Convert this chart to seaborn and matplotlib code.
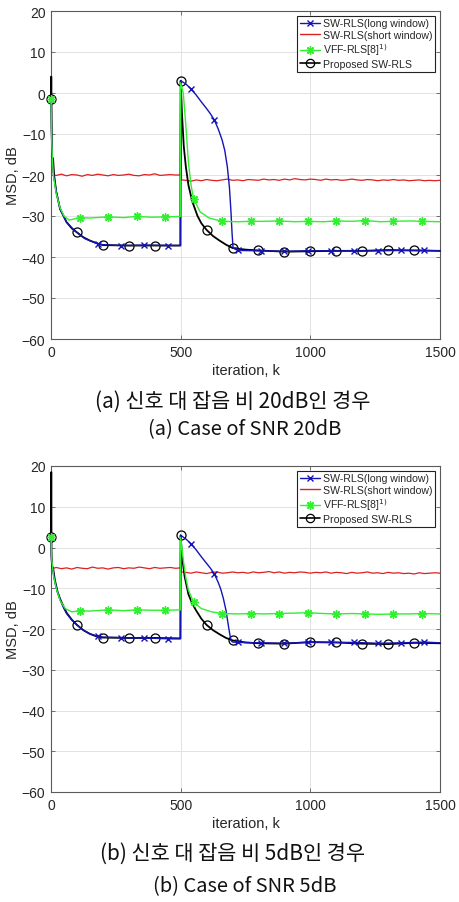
import numpy as np
import pandas as pd
import matplotlib
matplotlib.use("Agg")
import matplotlib.pyplot as plt
from matplotlib.lines import Line2D
import seaborn as sns

# ---- datos (MSD en dB frente a iteración k) ----
# Panel (a): SNR 20 dB
A_LONG_K = [0, 2, 5, 10, 20, 35, 60, 90, 100, 130, 180, 200, 270, 300, 360, 450, 499,
            500, 520, 540, 560, 580, 600, 615, 630, 645, 660, 670, 680, 688, 694, 698, 702,
            720, 810, 900, 990, 1080, 1170, 1260, 1350, 1440, 1500]
A_LONG = [-1.5, -10, -16, -20, -24, -28.3, -31.5, -33.5, -34, -35.5, -36.8, -37.0,
          -37.2, -37.2, -37.1, -37.2, -37.2,
          3.0, 2.2, 1.0, -0.5, -2.2, -3.8, -5.1, -6.6, -8.8, -11.5, -14.0, -18.0, -23.0,
          -29.0, -34.0, -37.8, -38.4, -38.5, -38.6,
          -38.5, -38.5, -38.5, -38.5, -38.4, -38.4, -38.5]
A_LONG_MARK = [180, 270, 360, 450, 540, 630, 720, 810, 900, 990, 1080, 1170, 1260, 1350, 1440]

A_SHORT_K = [0, 3, 6, 10] + list(range(20, 500, 20)) + [499, 500, 503] + list(range(520, 1501, 20))
A_SHORT = ([-1.5, -12, -18, -20.0] +
           [-20.1, -19.8, -20.2, -19.9, -20.0, -20.3, -19.9, -20.1, -19.8, -20.0, -20.2, -19.9,
            -20.1, -20.0, -19.8, -20.1, -20.2, -19.9, -20.0, -19.7, -20.1, -20.0, -19.9, -20.0] +
           [-20.0, 2.5, -21.2] +
           [-21.3, -21.5, -21.2, -21.4, -21.1, -21.3, -21.4, -21.2, -21.0, -21.3, -21.2, -21.4,
            -21.1, -21.2, -21.3, -21.0, -21.2, -21.1, -21.3, -21.0, -21.2, -20.9, -21.1, -21.2,
            -21.0, -21.1, -21.3, -21.0, -21.2, -21.1, -21.3, -21.2, -21.0, -21.2, -21.3, -21.1,
            -21.2, -21.4, -21.2, -21.3, -21.1, -21.3, -21.2, -21.4, -21.3, -21.2, -21.4, -21.3,
            -21.4, -21.3])

A_VFF_K = [0, 3, 6, 10, 20, 35, 50, 70, 110, 150, 220, 280, 330, 390, 440, 499,
           500, 510, 520, 530, 540, 550, 575, 610, 660, 720, 770, 820, 880, 940, 990,
           1050, 1100, 1160, 1210, 1270, 1320, 1380, 1430, 1500]
A_VFF = [-1.5, -12, -17, -20.5, -24.5, -28, -30.0, -31.0, -30.4, -30.5, -30.2, -30.4, -30.1,
         -30.3, -30.2, -30.1,
         2.5, 0.0, -8, -17, -22.5, -25.8, -29.0, -30.5, -31.3, -31.4, -31.3, -31.3, -31.2,
         -31.4, -31.3, -31.4, -31.2, -31.3, -31.1, -31.4, -31.3, -31.2, -31.3, -31.4]
A_VFF_MARK = [0, 110, 220, 330, 440, 550, 660, 770, 880, 990, 1100, 1210, 1320, 1430]

A_PROP_K = [0, 1, 3, 4, 8, 12, 20, 35, 60, 80, 100, 125, 150, 175, 200, 300, 400, 499,
            500, 505, 512, 520, 530, 545, 565, 580, 600, 625, 650, 675, 700, 750, 800, 900,
            1000, 1100, 1200, 1300, 1400, 1500]
A_PROP = [-1.5, 4.0, -10, -15.6, -16, -20, -24, -28.3, -31.5, -33.0, -34.0, -35.2, -36.0,
          -36.6, -37.1, -37.2, -37.2, -37.2,
          3.0, -5, -13, -18, -22.5, -26.5, -30.0, -31.8, -33.4, -34.9, -36.0, -37.0, -37.8,
          -38.2, -38.4, -38.7, -38.6, -38.5, -38.5, -38.3, -38.4, -38.5]
A_PROP_MARK = [0, 100, 200, 300, 400, 500, 600, 700, 800, 900, 1000, 1100, 1200, 1300, 1400]

# Panel (b): SNR 5 dB
B_LONG_K = [0, 2, 5, 15, 25, 35, 50, 60, 80, 100, 125, 150, 180, 200, 270, 300, 360, 450, 499,
            500, 520, 540, 560, 580, 600, 615, 630, 645, 655, 665, 675, 684, 690, 695, 700,
            720, 810, 900, 990, 1080, 1170, 1260, 1350, 1440, 1500]
B_LONG = [2.5, -3, -5, -8.5, -11.0, -12.8, -15.0, -16.2, -17.8, -19.0, -20.3, -21.2, -21.8,
          -22.0, -22.1, -22.2, -22.2, -22.4, -22.4,
          3.0, 2.1, 0.9, -0.6, -2.3, -3.9, -5.1, -6.5, -8.6, -10.3, -12.6, -15.5, -19.2,
          -21.5, -22.9, -23.2,
          -23.3, -23.4, -23.5, -23.3, -23.3, -23.3, -23.5, -23.4, -23.2, -23.4]
B_LONG_MARK = A_LONG_MARK

B_SHORT_K = [0, 2, 5, 10] + list(range(20, 500, 20)) + [499, 500, 503] + list(range(520, 1501, 20))
B_SHORT = ([2.5, -2, -5, -5.1] +
           [-4.9, -5.2, -5.0, -5.3, -4.9, -5.1, -5.2, -4.8, -5.1, -5.0, -5.3, -5.0,
            -4.9, -5.2, -5.0, -5.1, -4.8, -5.0, -5.2, -4.9, -5.1, -5.0, -4.9, -5.1] +
           [-5.0, 2.5, -6.0] +
           [-6.1, -6.3, -6.0, -6.2, -6.4, -6.1, -6.0, -6.3, -6.2, -6.0, -6.2, -6.1,
            -6.3, -6.0, -6.2, -6.1, -5.9, -6.2, -6.0, -6.3, -6.1, -6.2, -6.0, -6.1,
            -6.3, -6.1, -6.2, -6.0, -6.3, -6.1, -6.2, -6.4, -6.1, -6.3, -6.2, -6.0,
            -6.3, -6.2, -6.4, -6.1, -6.3, -6.2, -6.4, -6.3, -6.5, -6.2, -6.4, -6.3,
            -6.2, -6.3])

B_VFF_K = [0, 3, 10, 20, 35, 55, 80, 110, 150, 220, 280, 330, 390, 440, 499,
           500, 510, 520, 530, 550, 580, 620, 660, 720, 770, 820, 880, 940, 990,
           1050, 1100, 1160, 1210, 1270, 1320, 1380, 1430, 1500]
B_VFF = [2.5, -3, -7, -10, -13, -15, -15.8, -15.5, -15.6, -15.3, -15.5, -15.3, -15.4,
         -15.4, -15.3,
         2.5, -3, -7.5, -10.5, -13.4, -15.0, -15.8, -16.2, -16.3, -16.2, -16.3, -16.2, -16.1,
         -16.0, -16.2, -16.3, -16.2, -16.3, -16.4, -16.3, -16.3, -16.2, -16.3]
B_VFF_MARK = A_VFF_MARK

B_PROP_K = [0, 1, 2, 4, 8, 15, 25, 35, 50, 60, 80, 100, 125, 150, 175, 200, 300, 400, 499,
            500, 505, 515, 530, 545, 560, 580, 600, 625, 650, 675, 700, 750, 800, 900, 1000,
            1100, 1200, 1300, 1400, 1500]
B_PROP = [2.5, 18.5, -2, -4.5, -5, -8, -10.8, -12.6, -14.7, -16.0, -17.7, -19.0, -20.3,
          -21.2, -21.8, -22.1, -22.2, -22.2, -22.3,
          3.0, -2, -7, -11.5, -13.8, -15.5, -17.5, -19.0, -20.3, -21.3, -22.2, -22.8,
          -23.3, -23.5, -23.6, -23.2, -23.3, -23.6, -23.7, -23.4, -23.5]
B_PROP_MARK = A_PROP_MARK

LABELS = ["SW-RLS(long window)", "SW-RLS(short window)", "VFF-RLS[8]$^{1)}$", "Proposed SW-RLS"]
CAPTIONS_KO = ["(a) 신호 대 잡음 비 20dB인 경우", "(b) 신호 대 잡음 비 5dB인 경우"]
CAPTIONS_EN = ["(a) Case of SNR 20dB", "(b) Case of SNR 5dB"]

BLUE = "#1414b4"
RED = "#dd2020"
GREEN = "#30f030"
BLACK = "#000000"
ASTERISK = (8, 2, 0)

sns.set_theme(style="whitegrid")
plt.rcParams["font.family"] = ["Liberation Sans", "DejaVu Sans"]

fig = plt.figure(figsize=(4.6, 9.03), dpi=100)
H = 903.0
ax_a = fig.add_axes([51 / 460, 1 - 340 / H, 389 / 460, 328 / H])
ax_b = fig.add_axes([51 / 460, 1 - 793 / H, 389 / 460, 326 / H])


def draw_series(ax, k, v, marks, color, marker, lw, ms, mfc, mew, z):
    idx = [k.index(m) for m in marks] if marks else None
    kw = dict(x=k, y=v, estimator=None, sort=False, color=color, lw=lw, ax=ax,
              legend=False, zorder=z, clip_on=False)
    if marker:
        kw.update(marker=marker, markevery=idx, markersize=ms, mfc=mfc, mec=color, mew=mew)
    sns.lineplot(**kw)


def draw_panel(ax, d):
    draw_series(ax, d["prop_k"], d["prop"], d["prop_m"], BLACK, "o", 1.3, 6.5, "none", 0.9, 3)
    draw_series(ax, d["long_k"], d["long"], d["long_m"], BLUE, "x", 1.0, 4.5, BLUE, 1.0, 4)
    draw_series(ax, d["short_k"], d["short"], None, RED, None, 0.9, 0, None, 0, 2)
    draw_series(ax, d["vff_k"], d["vff"], d["vff_m"], GREEN, ASTERISK, 1.0, 6, GREEN, 1.0, 5)

    ax.set_xlim(0, 1500)
    ax.set_ylim(-60, 20)
    ax.set_xticks([0, 500, 1000, 1500])
    ax.set_yticks(range(-60, 21, 10))
    ax.grid(True, color="#e2e2e2", lw=0.7)
    ax.set_facecolor("white")
    for s in ax.spines.values():
        s.set_color("#5a5a5a")
        s.set_linewidth(0.8)
        s.set_zorder(1)
    ax.tick_params(direction="in", length=3, width=0.6, color="#5a5a5a",
                   top=True, right=True, bottom=True, left=True,
                   labelsize=10, labelcolor="#262626", pad=4)
    ax.set_xlabel("iteration, k", fontsize=10.5, color="#262626", labelpad=3)
    ax.set_ylabel("MSD, dB", fontsize=10.5, color="#262626", labelpad=1)

    handles = [
        Line2D([], [], color=BLUE, lw=1.0, marker="x", ms=4.5, mew=1.0),
        Line2D([], [], color=RED, lw=1.0),
        Line2D([], [], color=GREEN, lw=1.0, marker=ASTERISK, ms=6, mew=1.0),
        Line2D([], [], color=BLACK, lw=1.2, marker="o", ms=6, mfc="none", mew=0.9),
    ]
    leg = ax.legend(handles, LABELS, loc="upper right", fontsize=7.6, frameon=True,
                    fancybox=False, edgecolor="#222222", framealpha=1,
                    borderpad=0.25, labelspacing=0.15, handlelength=1.9,
                    handletextpad=0.3, borderaxespad=0.45)
    leg.get_frame().set_linewidth(0.8)
    leg.set_zorder(10)


draw_panel(ax_a, dict(long_k=A_LONG_K, long=A_LONG, long_m=A_LONG_MARK,
                      short_k=A_SHORT_K, short=A_SHORT,
                      vff_k=A_VFF_K, vff=A_VFF, vff_m=A_VFF_MARK,
                      prop_k=A_PROP_K, prop=A_PROP, prop_m=A_PROP_MARK))
draw_panel(ax_b, dict(long_k=B_LONG_K, long=B_LONG, long_m=B_LONG_MARK,
                      short_k=B_SHORT_K, short=B_SHORT,
                      vff_k=B_VFF_K, vff=B_VFF, vff_m=B_VFF_MARK,
                      prop_k=B_PROP_K, prop=B_PROP, prop_m=B_PROP_MARK))

cap_font = ["Noto Sans CJK KR", "DejaVu Sans"]
for ko, en, y_ko, y_en in zip(CAPTIONS_KO, CAPTIONS_EN, [402, 854], [430, 887]):
    fig.text(233 / 460, 1 - y_ko / H, ko, ha="center", va="center", fontsize=15,
             family=cap_font, color="#111111")
    fig.text(245 / 460, 1 - y_en / H, en, ha="center", va="center", fontsize=14.5,
             family=cap_font, color="#111111")

fig.savefig("out.png", dpi=100)
